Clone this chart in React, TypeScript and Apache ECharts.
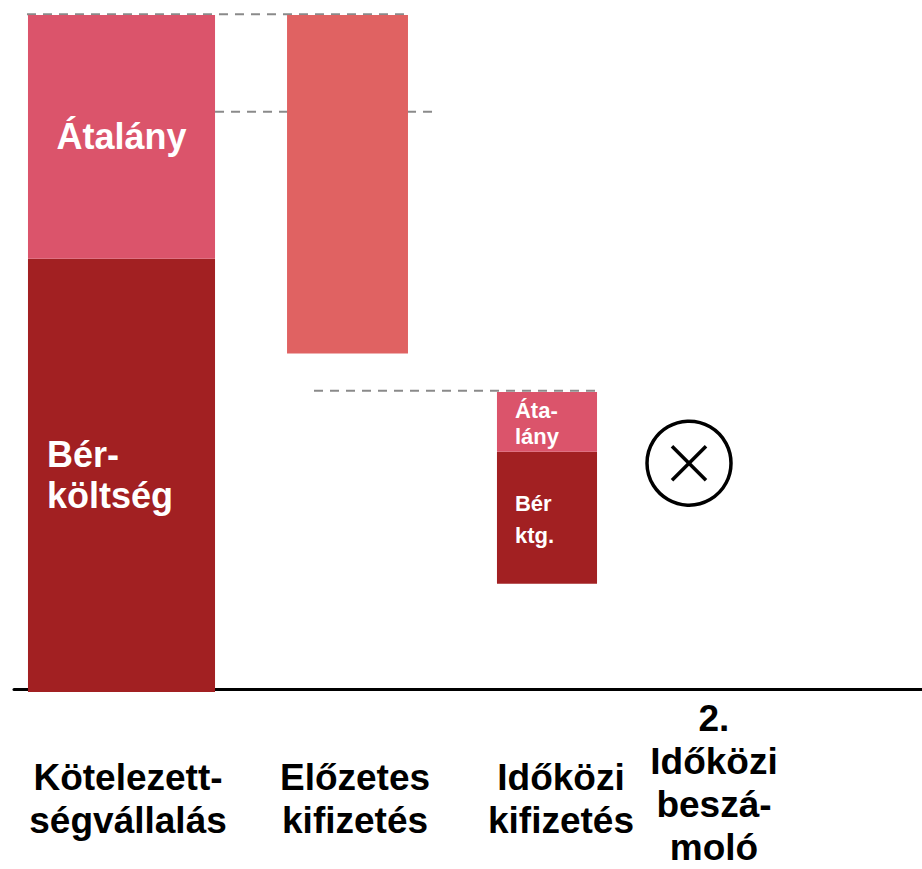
import React, { useEffect, useRef } from "react";
import * as echarts from "echarts";

// ---- data ----
const categories = [
  "Kötelezett-\nségvállalás",
  "Előzetes\nkifizetés",
  "Időközi\nkifizetés",
  "2.\nIdőközi\nbeszá-\nmoló",
];
const baseLevel = [0, 50, 16];
const berKoltseg = [64, 0, 19.5];
const atalany = [36, 0, 8.8];
const elozetesKifizetes = [0, 50, 0];
const berLabels = ["Bér-\nköltség", "", "Bér\nktg."];
const atalanyLabels = ["Átalány", "", "Áta-\nlány"];
const referenceLevels = [100, 85.6, 44.4];

// ---- layout (x axis units 0..100, y axis units 0..100) ----
const barLeft = [1.54, 30.07, 53.19];
const barRight = [22.14, 43.39, 64.21];
const labelX = [12.56, 37.56, 60.24, 77.09];
const labelDy = [107, 107, 107, 91];
const refFrom = [1.43, 22.14, 33.04];
const refTo = [43.39, 46.04, 64.21];
const markX = 74.34;
const markY = 33.8;

const FONT = '"Liberation Sans", Arial, Helvetica, sans-serif';
const C_BER = "#A22022";
const C_ATALANY = "#DB546B";
const C_ELOZETES = "#E06262";

type Seg = { cat: number; lo: number; hi: number; color: string; label: string; kind: string };

function buildSegments(): Seg[] {
  const segs: Seg[] = [];
  for (let i = 0; i < baseLevel.length; i++) {
    let lo = baseLevel[i];
    if (berKoltseg[i] > 0) {
      segs.push({ cat: i, lo, hi: lo + berKoltseg[i], color: C_BER, label: berLabels[i], kind: "ber" });
      lo += berKoltseg[i];
    }
    if (atalany[i] > 0) {
      segs.push({ cat: i, lo, hi: lo + atalany[i], color: C_ATALANY, label: atalanyLabels[i], kind: "atalany" });
      lo += atalany[i];
    }
    if (elozetesKifizetes[i] > 0) {
      segs.push({ cat: i, lo, hi: lo + elozetesKifizetes[i], color: C_ELOZETES, label: "", kind: "elozetes" });
      lo += elozetesKifizetes[i];
    }
  }
  return segs;
}

export default function App() {
  const ref = useRef<HTMLDivElement>(null);
  useEffect(() => {
    if (!ref.current) return;
    const chart = echarts.init(ref.current, undefined, { renderer: "svg" });
    const segs = buildSegments();

    const option: any = {
      animation: false,
      backgroundColor: "#ffffff",
      grid: { left: 14, right: 0, top: 15, bottom: 177 },
      xAxis: {
        type: "value",
        min: 0,
        max: 100,
        offset: -2.5,
        axisLine: { show: true, onZero: false, lineStyle: { color: "#000", width: 3 } },
        axisTick: { show: false },
        axisLabel: { show: false },
        splitLine: { show: false },
      },
      yAxis: {
        type: "value",
        min: 0,
        max: 100,
        show: false,
        splitLine: { show: false },
      },
      series: [
        {
          type: "custom",
          name: "ref",
          z: 1,
          silent: true,
          data: referenceLevels.map((lv, i) => [refFrom[i], lv, refTo[i]]),
          renderItem: (params: any, api: any) => {
            const a = api.coord([api.value(0), api.value(1)]);
            const b = api.coord([api.value(2), api.value(1)]);
            return {
              type: "line",
              shape: { x1: a[0], y1: a[1] - 0.7, x2: b[0], y2: b[1] - 0.7 },
              style: { stroke: "#8a8a8a", lineWidth: 2, lineDash: [9, 7] },
            };
          },
        },
        {
          type: "custom",
          name: "bars",
          z: 3,
          silent: true,
          data: segs.map((s) => [s.cat, s.lo, s.hi]),
          renderItem: (params: any, api: any) => {
            const s = segs[params.dataIndex];
            const p0 = api.coord([barLeft[s.cat], s.hi]);
            const p1 = api.coord([barRight[s.cat], s.lo]);
            const children: any[] = [
              {
                type: "rect",
                shape: { x: p0[0], y: p0[1], width: p1[0] - p0[0], height: p1[1] - p0[1] },
                style: { fill: s.color },
              },
            ];
            if (s.label) {
              const big = s.cat === 0;
              const centered = big && s.kind === "atalany";
              const size = big ? 36 : 22;
              const lh = big ? 41 : s.kind === "atalany" ? 26 : 32;
              const x = centered ? (p0[0] + p1[0]) / 2 : p0[0] + (big ? 19 : 18);
              const y = (p0[1] + p1[1]) / 2 + (big ? 0 : 2);
              children.push({
                type: "text",
                style: {
                  text: s.label,
                  x,
                  y,
                  fill: "#ffffff",
                  font: `bold ${size}px ${FONT}`,
                  fontSize: size,
                  fontWeight: "bold",
                  fontFamily: FONT,
                  lineHeight: lh,
                  align: centered ? "center" : "left",
                  verticalAlign: "middle",
                  textAlign: centered ? "center" : "left",
                  textVerticalAlign: "middle",
                },
              });
            }
            return { type: "group", children };
          },
        },
        {
          type: "custom",
          name: "mark",
          z: 3,
          silent: true,
          data: [[markX, markY]],
          renderItem: (params: any, api: any) => {
            const c = api.coord([api.value(0), api.value(1)]);
            const r = 42;
            const h = 17;
            return {
              type: "group",
              children: [
                {
                  type: "circle",
                  shape: { cx: c[0], cy: c[1], r },
                  style: { fill: "none", stroke: "#000", lineWidth: 3.5 },
                },
                {
                  type: "line",
                  shape: { x1: c[0] - h, y1: c[1] - h, x2: c[0] + h, y2: c[1] + h },
                  style: { stroke: "#000", lineWidth: 3.5 },
                },
                {
                  type: "line",
                  shape: { x1: c[0] - h, y1: c[1] + h, x2: c[0] + h, y2: c[1] - h },
                  style: { stroke: "#000", lineWidth: 3.5 },
                },
              ],
            };
          },
        },
        {
          type: "custom",
          name: "labels",
          z: 3,
          silent: true,
          data: categories.map((c, i) => [labelX[i], 0]),
          renderItem: (params: any, api: any) => {
            const i = params.dataIndex;
            const p = api.coord([api.value(0), 0]);
            return {
              type: "text",
              style: {
                text: categories[i],
                x: p[0],
                y: p[1] + labelDy[i],
                fill: "#000000",
                font: `bold 37px ${FONT}`,
                fontSize: 37,
                fontWeight: "bold",
                fontFamily: FONT,
                lineHeight: 43,
                align: "center",
                verticalAlign: "middle",
                textAlign: "center",
                textVerticalAlign: "middle",
              },
            };
          },
        },
      ],
    };
    chart.setOption(option);
    return () => chart.dispose();
  }, []);
  return (
    <div
      ref={ref}
      style={{ position: "fixed", left: 0, top: 0, width: 922, height: 869, background: "#fff" }}
    />
  );
}
